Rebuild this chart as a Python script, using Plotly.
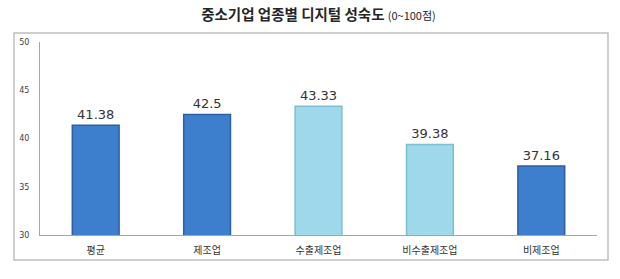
import plotly.graph_objects as go

categories = ["평균", "제조업", "수출제조업", "비수출제조업", "비제조업"]
values = [41.38, 42.5, 43.33, 39.38, 37.16]
bar_colors = ["#3d7ecd", "#3d7ecd", "#9fd8ea", "#9fd8ea", "#3d7ecd"]
edge_colors = ["#2c5f9e", "#2c5f9e", "#7bbfd4", "#7bbfd4", "#2c5f9e"]
y_ticks = [30, 35, 40, 45, 50]

fig = go.Figure()
fig.add_trace(go.Bar(
    x=categories, y=values,
    marker=dict(color=bar_colors, line=dict(color=edge_colors, width=1.5)),
    text=[str(v) for v in values],
    textposition="outside",
    textfont=dict(family="DejaVu Sans", size=13, color="#333333"),
    cliponaxis=False,
))

L, R, T, B = 40, 23, 42, 44
W, H = 620, 279
pw, ph = W - L - R, H - T - B

def px(x):
    return (x - L) / pw

def py(y):
    return (H - B - y) / ph

fig.add_shape(type="rect", xref="paper", yref="paper",
              x0=px(14), x1=px(608), y0=py(260), y1=py(33),
              line=dict(color="#bfbfbf", width=1.5), layer="below")

fig.update_layout(
    width=W, height=H,
    margin=dict(l=L, r=R, t=T, b=B),
    paper_bgcolor="white", plot_bgcolor="white",
    bargap=0.58,
    showlegend=False,
    title=dict(
        text="<b>중소기업 업종별 디지털 성숙도</b> <span style='font-size:11px'>(0~100점)</span>",
        x=0.5, xref="paper", xanchor="center", y=1 - 15 / H, yanchor="middle",
        font=dict(family="Noto Sans CJK KR", size=14.5, color="#262626"),
    ),
    yaxis=dict(range=[30, 50], tickvals=y_ticks, showgrid=False,
               showline=True, linecolor="#a6a6a6", linewidth=1,
               ticks="", tickfont=dict(family="DejaVu Sans", size=8, color="#404040"),
               ticklabelstandoff=8, zeroline=False),
    xaxis=dict(showline=True, linecolor="#a6a6a6", linewidth=1, ticks="",
               ticklabelstandoff=6,
               tickfont=dict(family="Noto Sans CJK KR", size=10, color="#333333")),
)

fig.write_html("out.html")
